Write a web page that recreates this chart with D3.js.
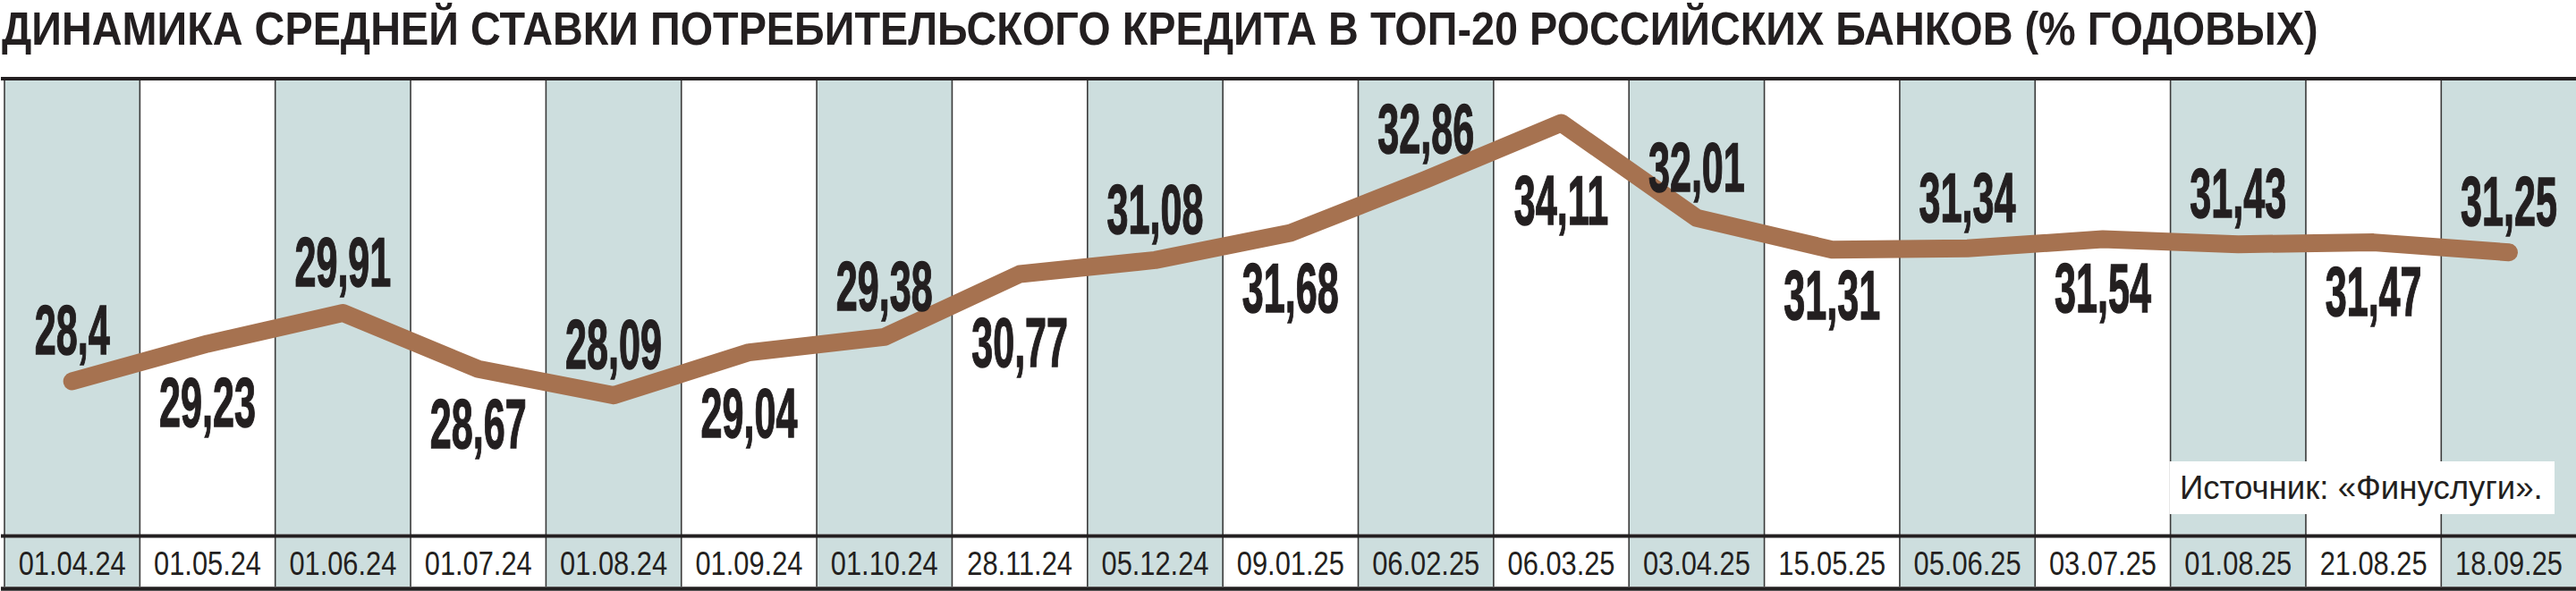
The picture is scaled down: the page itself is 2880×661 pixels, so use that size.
<!DOCTYPE html>
<html><head><meta charset="utf-8">
<script src="https://cdn.jsdelivr.net/npm/d3@7"></script>
<style>body{margin:0;background:#fff}svg{display:block}</style>
</head><body>
<svg id="c" width="2880" height="661"></svg>
<script>
const title = "ДИНАМИКА СРЕДНЕЙ СТАВКИ ПОТРЕБИТЕЛЬСКОГО КРЕДИТА В ТОП-20 РОССИЙСКИХ БАНКОВ (% ГОДОВЫХ)";
const source = "Источник: «Финуслуги».";
const dates = ["01.04.24","01.05.24","01.06.24","01.07.24","01.08.24","01.09.24","01.10.24","28.11.24","05.12.24","09.01.25","06.02.25","06.03.25","03.04.25","15.05.25","05.06.25","03.07.25","01.08.25","21.08.25","18.09.25"];
const rates = [28.4,29.23,29.91,28.67,28.09,29.04,29.38,30.77,31.08,31.68,32.86,34.11,32.01,31.31,31.34,31.54,31.43,31.47,31.25];

const FONT = '"Liberation Sans Narrow","Arial Narrow","Liberation Sans",Arial,sans-serif';
const INK = "#231f20", SHADE = "#cddede", LINE = "#a67250", SEP = "#3a3a3a";
const W = 2880, H = 661;
const plotTop = 90, plotBottom = 597.5, bandTop = 601.5, bandBottom = 656;

const svg = d3.select("#c");
svg.append("rect").attr("width", W).attr("height", H).attr("fill", "#fff");

const x = d3.scaleBand().domain(dates).range([5, 2880.65]).padding(0);
const y = d3.scaleLinear().domain([25, 35]).range([598.5, 92.5]);
const cx = d => x(d) + x.bandwidth() / 2;

function measure(str, size, weight) {
  const t = svg.append("text").attr("font-family", FONT).attr("font-size", size)
    .attr("font-weight", weight).text(str);
  const w = t.node().getComputedTextLength();
  t.remove();
  return w;
}

// shaded columns (plot area + date band)
const cols = svg.append("g");
dates.forEach((d, i) => {
  if (i % 2 === 0) {
    cols.append("rect").attr("x", x(d)).attr("y", plotTop).attr("width", x.bandwidth())
      .attr("height", plotBottom - plotTop).attr("fill", SHADE);
    cols.append("rect").attr("x", x(d)).attr("y", bandTop).attr("width", x.bandwidth())
      .attr("height", bandBottom - bandTop).attr("fill", SHADE);
  }
});
// separators
dates.forEach((d, i) => {
  cols.append("line").attr("x1", x(d)).attr("x2", x(d)).attr("y1", plotTop).attr("y2", bandBottom)
    .attr("stroke", SEP).attr("stroke-width", 1.6);
});

// rules
const rules = [[88, 4], [599.5, 4], [658.5, 4.5]];
rules.forEach(([yy, sw]) => {
  svg.append("line").attr("x1", 1).attr("x2", W).attr("y1", yy).attr("y2", yy)
    .attr("stroke", INK).attr("stroke-width", sw);
});

// title
const tW = measure(title, 52, "bold");
svg.append("text").attr("font-family", FONT).attr("font-size", 52).attr("font-weight", "bold")
  .attr("fill", INK).attr("transform", `translate(2,50) scale(${2590 / tW},1)`).text(title);

// line
const pts = dates.map((d, i) => [cx(d), y(rates[i])]);
svg.append("path").attr("d", d3.line()(pts)).attr("fill", "none").attr("stroke", LINE)
  .attr("stroke-width", 20).attr("stroke-linejoin", "round").attr("stroke-linecap", "round");

function lineYAt(px) {
  if (px <= pts[0][0]) return pts[0][1];
  if (px >= pts[pts.length - 1][0]) return pts[pts.length - 1][1];
  for (let k = 0; k < pts.length - 1; k++) {
    const [x0, y0] = pts[k], [x1, y1] = pts[k + 1];
    if (px >= x0 && px <= x1) return y0 + (y1 - y0) * (px - x0) / (x1 - x0);
  }
}

// value labels
const VS = 78, capH = 56;
const vsx = 108 / measure("29,23", VS, "bold");
const labels = svg.append("g");
rates.forEach((v, i) => {
  const s = String(v).replace(".", ",");
  const px = cx(dates[i]);
  const hw = measure(s, VS, "bold") * vsx / 2;
  let capCenter;
  if (i % 2 === 0) {
    capCenter = y(v) - 58;
  } else {
    let maxY = -Infinity;
    for (let t = -hw; t <= hw; t += 2) maxY = Math.max(maxY, lineYAt(px + t));
    capCenter = maxY + 10 + 12 + capH / 2;
  }
  labels.append("text").attr("font-family", FONT).attr("font-size", VS).attr("font-weight", "bold")
    .attr("fill", INK).attr("stroke", INK).attr("stroke-width", 1.4).attr("text-anchor", "middle")
    .attr("transform", `translate(${px},${capCenter + capH / 2}) scale(${vsx},1)`).text(s);
});

// date labels
const dsx = 120 / measure("01.04.24", 37, "normal");
dates.forEach(d => {
  svg.append("text").attr("font-family", FONT).attr("font-size", 37).attr("fill", INK)
    .attr("text-anchor", "middle")
    .attr("transform", `translate(${cx(d)},643) scale(${dsx},1)`).text(d);
});

// source box
svg.append("rect").attr("x", x(dates[16]) - 1).attr("y", 516).attr("width", 2856 - x(dates[16]) + 1)
  .attr("height", 59).attr("fill", "#fff");
const sW = measure(source, 37, "normal");
svg.append("text").attr("font-family", FONT).attr("font-size", 37).attr("fill", INK)
  .attr("transform", `translate(2437,558) scale(${406 / sW},1)`).text(source);
</script>
</body></html>
